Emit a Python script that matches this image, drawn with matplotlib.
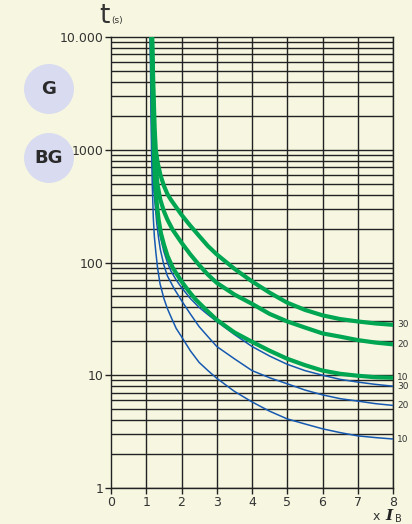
import matplotlib
matplotlib.use('Agg')
import matplotlib.pyplot as plt
from matplotlib.patches import Circle

# curve data (x = multiple of I_B, t in seconds)
green30_x = [1.17, 1.19, 1.21, 1.24, 1.27, 1.32, 1.4, 1.5, 1.6, 1.7, 1.8, 2.0, 2.25, 2.5, 2.75,
             3.0, 3.5, 4.0, 4.5, 5.0, 5.5, 6.0, 6.5, 7.0, 7.5, 8.0]
green30_t = [10000, 5000, 3000, 1500, 1000, 780, 600, 480, 405, 360, 325, 265, 212, 172, 140,
             118, 88, 68, 54, 44, 38, 34, 31.5, 30, 28.8, 28]

green20_x = [1.16, 1.18, 1.2, 1.23, 1.27, 1.32, 1.4, 1.5, 1.6, 1.75, 2.0, 2.25, 2.5, 2.75,
             3.0, 3.5, 4.0, 4.5, 5.0, 5.5, 6.0, 6.5, 7.0, 7.5, 8.0]
green20_t = [10000, 5000, 2500, 1200, 700, 490, 360, 285, 240, 195, 150, 118, 95, 78,
             66, 52, 43, 35, 30, 26.5, 23.5, 22, 20.5, 19.5, 18.8]

green10_x = [1.15, 1.17, 1.19, 1.22, 1.25, 1.3, 1.35, 1.42, 1.5, 1.6, 1.75, 2.0, 2.2, 2.4, 2.7,
             3.0, 3.5, 4.0, 4.5, 5.0, 5.5, 6.0, 6.5, 7.0, 7.5, 8.0]
green10_t = [10000, 5000, 2000, 900, 520, 330, 240, 180, 145, 115, 90, 68, 56, 47, 38,
             31, 24, 19.8, 16.5, 14, 12.3, 11, 10.3, 9.9, 9.6, 9.5]

blue30_x = [1.12, 1.14, 1.17, 1.2, 1.25, 1.3, 1.4, 1.5, 1.6, 1.7, 1.85, 2.0, 2.25, 2.5, 2.75,
            3.0, 3.5, 4.0, 4.5, 5.0, 5.5, 6.0, 6.5, 7.0, 7.5, 8.0]
blue30_t = [10000, 3000, 1000, 550, 380, 280, 170, 125, 100, 84, 70, 60, 48, 40, 34.5,
            30, 23, 18, 14.8, 12.5, 11, 10, 9.2, 8.7, 8.3, 8.0]

blue20_x = [1.12, 1.14, 1.16, 1.19, 1.22, 1.25, 1.3, 1.35, 1.4, 1.5, 1.6, 1.8, 2.0, 2.25, 2.5, 2.75,
            3.0, 3.5, 4.0, 4.5, 5.0, 5.5, 6.0, 6.5, 7.0, 7.5, 8.0]
blue20_t = [10000, 3000, 1000, 600, 420, 330, 220, 165, 130, 95, 76, 58, 46, 35, 27, 22,
            18, 14, 11, 9.5, 8.4, 7.4, 6.7, 6.2, 5.9, 5.6, 5.4]

blue10_x = [1.11, 1.13, 1.15, 1.17, 1.2, 1.23, 1.27, 1.32, 1.39, 1.5, 1.6, 1.7, 1.85, 2.0, 2.25, 2.5, 2.75,
            3.0, 3.5, 4.0, 4.5, 5.0, 5.5, 6.0, 6.5, 7.0, 7.5, 8.0]
blue10_t = [10000, 3000, 1000, 500, 250, 170, 125, 90, 65, 48, 39, 33, 26, 22, 16.5, 13, 11,
            9.4, 7.2, 5.8, 4.8, 4.1, 3.7, 3.35, 3.1, 2.9, 2.8, 2.72]

curve_labels = ['30', '20', '10', '30', '20', '10']
x_ticks = [0, 1, 2, 3, 4, 5, 6, 7, 8]
y_ticks = [1, 10, 100, 1000, 10000]
y_ticklabels = ['1', '10', '100', '1000', '10.000']

BG = '#f7f7e1'
GREEN = '#00a651'
BLUE = '#1659b0'

fig = plt.figure(figsize=(4.12, 5.24), dpi=100, facecolor=BG)
ax = fig.add_axes([111/412, 1 - 488/524, 282/412, 451/524])
ax.set_facecolor(BG)
ax.set_yscale('log')
ax.set_xlim(0, 8)
ax.set_ylim(1, 10000)

# grid: every integer in x, every 1..9 step of each decade in y
for x in x_ticks[1:]:
    ax.axvline(x, color='#222222', lw=1.0, zorder=1)
for dec in [1, 10, 100, 1000]:
    for m in range(1, 10):
        ax.axhline(dec * m, color='#222222', lw=1.0, zorder=1)

blues = [(blue30_x, blue30_t), (blue20_x, blue20_t), (blue10_x, blue10_t)]
greens = [(green30_x, green30_t), (green20_x, green20_t), (green10_x, green10_t)]
for xs, ts in blues:
    ax.plot(xs, ts, color=BLUE, lw=1.1, zorder=3, solid_joinstyle='round')
for xs, ts in greens:
    ax.plot(xs, ts, color=GREEN, lw=3.0, zorder=4, solid_joinstyle='round')

# end labels at right
for (xs, ts), lab in zip(greens + blues, curve_labels):
    ax.text(8.12, ts[-1], lab, fontsize=6.5, color='#333333',
            va='center', ha='left', clip_on=False)

ax.set_xticks(x_ticks)
ax.set_xticklabels([str(v) for v in x_ticks])
ax.set_yticks(y_ticks)
ax.set_yticklabels(y_ticklabels)
ax.minorticks_off()
ax.tick_params(axis='both', direction='out', length=4, width=1, color='#222222',
               labelsize=9, labelcolor='#333333', pad=1.5)
for s in ax.spines.values():
    s.set_color('#222222')
    s.set_linewidth(1.0)

# axis titles
fig.text(99/412, 1 - 23/524, 't', fontsize=19, color='#333333', ha='left', va='baseline')
fig.text(111/412, 1 - 23/524, '(s)', fontsize=6.5, color='#333333', ha='left', va='baseline')
fig.text(373/412, 1 - 520/524, 'x', fontsize=9, color='#333333', ha='left', va='baseline')
fig.text(385/412, 1 - 520/524, 'I', fontsize=11, color='#222222', ha='left', va='baseline',
         family='DejaVu Serif', style='italic', weight='bold')
fig.text(395/412, 1 - 522/524, 'B', fontsize=7, color='#333333', ha='left', va='baseline')

# badges (placed in inches so they stay round)
for cy, lab in [(89, 'G'), (158, 'BG')]:
    fig.patches.append(Circle((49/100, (524 - cy)/100), 0.25, transform=fig.dpi_scale_trans,
                              facecolor='#d9dcf0', edgecolor='none'))
    fig.text(49/412, 1 - cy/524, lab, fontsize=13, weight='bold', color='#2a2a2a',
             ha='center', va='center')

fig.savefig('out.png', dpi=100, facecolor=BG)
